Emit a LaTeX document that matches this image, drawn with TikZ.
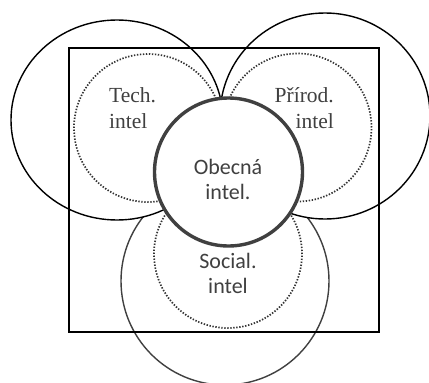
\documentclass[tikz,border=0pt]{standalone}
\usepackage{fontspec}
\setmainfont{Liberation Serif}
\newfontfamily\calibrifont{Carlito}
\definecolor{inkgray}{HTML}{404040}

\begin{document}
\begin{tikzpicture}[x=1pt,y=-1pt,
                       big ring/.style={draw=black,fill=white,line width=1.4pt},
                       dot ring/.style={draw=black!80,line width=1.7pt,
                                        dash pattern=on 1.4pt off 1.6pt},
                       core ring/.style={draw=inkgray,fill=white,line width=3.4pt},
                       serif label/.style={inner sep=0pt,text=inkgray,
                                           font=\fontsize{21.5}{25.5}\selectfont},
                       sans label/.style={inner sep=0pt,text=inkgray,align=center,
                                          font=\calibrifont\fontsize{22}{25}\selectfont}
                           ]
   \useasboundingbox (0,0) rectangle (429,383);
   % outer rings
   \draw[big ring,draw=inkgray] (225,281) circle [radius=104pt];
   \draw[big ring] (117,120) ellipse [x radius=106pt, y radius=100pt];
   \draw[big ring] (325,116) ellipse [x radius=105pt, y radius=103pt];
   \draw[line width=1.5pt] (69,48) rectangle (379,332);
   % inner rings
   \draw[dot ring] (148,128) circle [radius=74pt];
   \draw[dot ring] (297.5,127.5) circle [radius=74pt];
   \draw[dot ring] (228,254) circle [radius=74pt];
   \draw[core ring] (228.5,172) circle [radius=74pt];
   % labels (base = last line)
   \node[serif label,align=left,anchor=base west] (tech) at (109,128) {Tech.\\intel};
   \node[serif label,align=right,anchor=base east] (prirod) at (334,128) {Přírod.\\intel};
   \node[sans label,anchor=base] (obecna) at (228,199) {Obecná\\intel.};
   \node[sans label,anchor=base] (social) at (228,293) {Social.\\intel};
      \end{tikzpicture}
\end{document}
